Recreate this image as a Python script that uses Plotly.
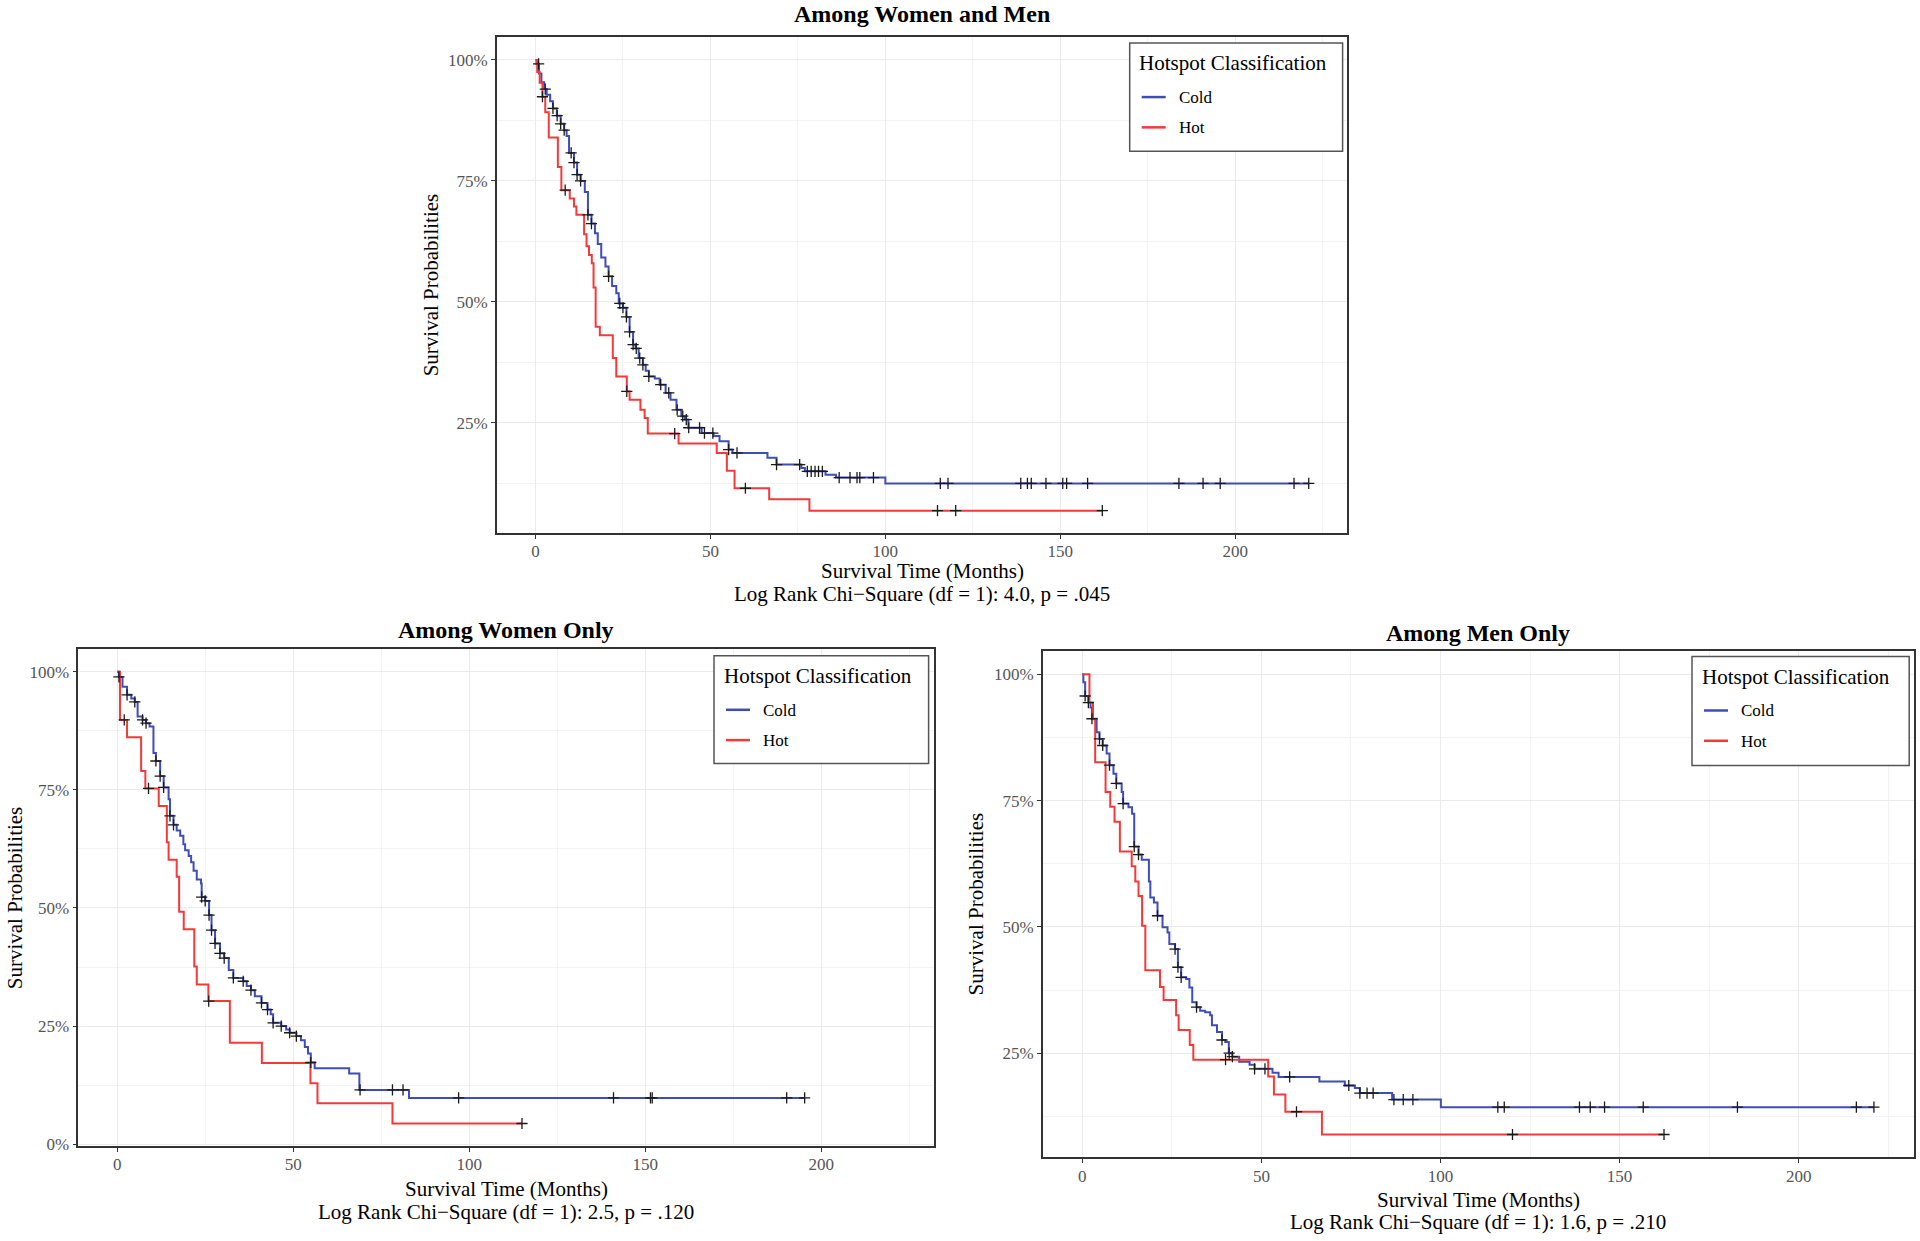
import plotly.graph_objects as go

FONT = "Liberation Serif"
BLUE = "#3F4DB8"
RED = "#F23A3A"
W, H = 1920, 1241

# ---------------- data: Among Women and Men ----------------
all_cold_t = [0, 0.3, 1.0, 1.7, 2.5, 3.2, 4.2, 5.0, 6.1, 7.2, 8.2, 8.9, 9.6, 11.0, 11.9, 12.9, 14.1, 15.0, 16.0, 17.0,
              17.8, 18.8, 20.0, 20.9, 21.9, 23.1, 23.8, 25.0, 26.0, 26.9, 27.9, 28.6, 29.5, 30.7, 31.5, 32.4, 34.1, 35.5,
              37.2, 38.6, 40.3, 41.7, 42.7, 43.7, 47.5, 50.9, 52.6, 55.2, 56.3, 66.3, 68.9, 76.0, 77.0, 82.9, 85.9, 100.0]
all_cold_s = [100, 99.2, 97.2, 95.4, 94.0, 92.8, 91.5, 90.0, 88.5, 86.8, 85.5, 84.3, 80.8, 78.8, 76.3, 75.0, 72.7, 68.0,
              66.2, 64.2, 62.0, 59.2, 57.3, 55.3, 53.3, 51.8, 49.7, 48.8, 46.9, 43.8, 41.2, 40.4, 38.4, 37.0, 35.8, 34.6,
              34.2, 32.9, 31.2, 29.8, 27.7, 26.4, 25.7, 24.0, 22.9, 22.3, 21.2, 19.5, 18.8, 17.8, 16.4, 15.7, 15.0, 14.3,
              13.7, 12.5]
all_cold_cens = [0.9, 2.8, 5.0, 6.2, 7.2, 8.2, 10.2, 11.0, 11.9, 12.9, 15.0, 16.0, 20.9, 24.1, 25.0, 26.0, 26.9, 27.9,
                 28.8, 29.8, 30.7, 32.4, 35.8, 38.1, 40.5, 42.1, 43.1, 43.8, 46.9, 48.3, 50.7, 55.2, 57.6, 68.9, 75.5,
                 77.7, 78.8, 79.9, 80.9, 82.0, 86.8, 89.9, 91.9, 92.7, 96.6, 115.7, 117.9, 138.7, 140.6, 141.7, 145.9,
                 150.7, 151.8, 157.8, 183.9, 190.8, 195.7, 216.8, 221.0]
all_hot_t = [0, 0.5, 1.2, 2.0, 2.8, 3.8, 6.4, 7.4, 9.8, 11.0, 11.7, 13.9, 14.6, 15.3, 16.1, 16.6, 17.2, 18.4, 22.1, 23.1,
             26.1, 26.9, 30.0, 31.2, 32.1, 40.9, 51.8, 54.7, 56.9, 66.8, 78.3]
all_hot_s = [100, 97.5, 95.3, 92.4, 89.2, 84.0, 77.9, 73.1, 71.4, 69.7, 68.0, 64.0, 61.5, 59.7, 58.0, 53.0, 44.9, 43.1,
             38.4, 34.6, 31.5, 29.8, 27.7, 26.0, 22.8, 20.75, 18.8, 15.1, 11.5, 9.24, 6.86]
all_hot_cens = [2.0, 8.5, 26.1, 39.8, 60.0, 114.9, 120.1, 162.0]

# ---------------- data: Among Women Only ----------------
w_cold_t = [0, 0.5, 1.5, 2.8, 4.0, 5.0, 5.8, 7.2, 8.2, 9.2, 10.3, 11.0, 12.2, 13.2, 14.6, 15.0, 16.0, 16.9, 17.9, 18.8,
            19.3, 20.3, 21.0, 21.7, 22.6, 23.8, 24.0, 25.0, 26.1, 26.8, 27.8, 29.2, 30.4, 31.7, 33.0, 35.8, 36.8, 38.0,
            39.1, 41.0, 42.7, 43.6, 44.3, 46.6, 48.0, 49.0, 50.9, 52.2, 53.3, 54.2, 55.0, 56.1, 65.9, 68.8, 82.9]
w_cold_s = [100, 98.9, 96.8, 95.1, 94.3, 93.6, 90.5, 89.8, 89.1, 88.4, 82.8, 81.1, 77.9, 75.5, 73.0, 69.5, 67.6, 66.4,
            65.3, 63.5, 62.2, 61.0, 59.7, 57.9, 56.0, 55.2, 52.3, 51.5, 48.5, 45.3, 42.5, 40.4, 39.4, 36.9, 35.2, 34.5,
            33.5, 32.6, 31.3, 29.9, 28.5, 27.5, 25.7, 25.0, 24.3, 23.6, 22.9, 22.0, 20.6, 19.2, 17.3, 16.1, 15.0, 11.5,
            9.8]
w_cold_cens = [0.5, 2.8, 5.0, 7.2, 8.2, 11.0, 12.2, 13.2, 15.0, 16.0, 24.0, 25.0, 26.1, 26.8, 27.8, 29.2, 30.4, 33.0,
               35.8, 38.0, 41.0, 42.7, 44.3, 46.6, 49.0, 50.9, 55.0, 69.0, 78.2, 81.2, 97.0, 141.0, 151.5, 152.0,
               190.2, 195.3]
w_hot_t = [0, 0.8, 2.8, 6.8, 8.0, 11.8, 14.1, 14.6, 16.9, 17.6, 18.9, 21.9, 22.6, 25.9, 32.0, 41.1, 54.9, 56.9, 78.2]
w_hot_s = [100, 89.8, 86.1, 79.0, 75.3, 71.6, 63.9, 60.2, 56.6, 49.2, 45.5, 37.6, 33.8, 30.3, 21.5, 17.2, 12.9, 8.7, 4.4]
w_hot_cens = [2.0, 8.9, 26.0, 115.0]

# ---------------- data: Among Men Only ----------------
m_cold_t = [0, 0.3, 0.8, 1.7, 2.3, 2.7, 4.0, 4.8, 5.7, 6.8, 7.6, 8.7, 9.5, 11.0, 11.4, 12.9, 13.9, 14.5, 15.7, 16.6,
            18.6, 19.0, 20.0, 21.0, 22.4, 23.8, 24.3, 25.9, 26.7, 27.6, 29.0, 29.9, 30.7, 31.9, 32.9, 34.3, 35.7, 36.2,
            37.6, 39.0, 39.9, 40.9, 41.9, 43.8, 46.7, 48.1, 53.1, 54.8, 66.2, 73.3, 76.1, 77.5, 86.5, 100.1]
m_cold_s = [100, 98.4, 95.7, 94.4, 93.4, 91.2, 88.5, 87.2, 85.9, 84.3, 82.0, 80.3, 78.4, 76.7, 74.4, 73.7, 72.4, 65.9,
            64.3, 63.3, 59.0, 55.8, 54.8, 52.2, 49.9, 48.9, 46.6, 45.6, 42.0, 40.0, 39.7, 38.0, 35.1, 34.1, 33.4, 33.1,
            32.5, 30.5, 29.2, 27.6, 27.2, 25.0, 24.3, 23.3, 22.7, 21.9, 21.1, 20.3, 19.4, 18.6, 18.1, 17.1, 15.8, 14.3]
m_cold_cens = [0.8, 1.7, 2.7, 4.8, 5.7, 7.6, 9.5, 11.4, 14.5, 15.7, 21.0, 25.9, 26.7, 27.6, 31.9, 39.0, 41.0, 41.9,
               48.1, 51.0, 57.9, 74.4, 77.5, 79.5, 81.2, 87.0, 89.6, 92.3, 116.0, 117.8, 138.8, 141.8, 145.8, 156.6,
               182.9, 216.1, 221.0]
m_hot_t = [0, 2.0, 3.0, 3.6, 6.5, 7.8, 9.0, 10.5, 13.8, 14.8, 15.7, 16.7, 17.6, 21.7, 22.7, 26.2, 26.9, 30.0, 31.0,
           51.9, 53.5, 56.7, 66.9]
m_hot_s = [100, 94.4, 91.1, 82.6, 76.7, 73.8, 70.8, 64.9, 62.0, 59.0, 56.1, 50.2, 41.4, 38.1, 35.5, 32.5, 29.6, 26.6,
           23.7, 20.4, 16.8, 13.4, 8.9]
m_hot_cens = [40.0, 59.8, 120.1, 162.4]

titles = ["Among Women and Men", "Among Women Only", "Among Men Only"]
stats = ["Log Rank Chi\u2212Square (df = 1): 4.0, p = .045",
         "Log Rank Chi\u2212Square (df = 1): 2.5, p = .120",
         "Log Rank Chi\u2212Square (df = 1): 1.6, p = .210"]
group_names = ["Cold", "Hot"]
group_colors = [BLUE, RED]
x_ticks = [0, 50, 100, 150, 200]
y_ticks = [0, 25, 50, 75, 100]
y_ticklabels = ["0%", "25%", "50%", "75%", "100%"]
x_title = "Survival Time (Months)"
y_title = "Survival Probabilities"
legend_title = "Hotspot Classification"

panels_data = [
    [(all_cold_t, all_cold_s, all_cold_cens), (all_hot_t, all_hot_s, all_hot_cens)],
    [(w_cold_t, w_cold_s, w_cold_cens), (w_hot_t, w_hot_s, w_hot_cens)],
    [(m_cold_t, m_cold_s, m_cold_cens), (m_hot_t, m_hot_s, m_hot_cens)],
]

# ---------------- layout geometry (pixels) ----------------
boxes = [(496.8, 1347.4, 37.7, 536.7), (78.3, 934.0, 653.3, 1153.5), (1042.7, 1913.5, 655.5, 1165.0)]
legend_boxes = [(1129.7, 43.3, 1342.6, 152.3), (714.0, 660.0, 928.6, 768.5), (1692.0, 660.7, 1909.2, 770.5)]
title_y = [14.5, 634.0, 637.0]
xtitle_y = [575.0, 1197.0, 1208.0]
stat_y = [598.0, 1220.0, 1230.0]
ytitle_x = [431.0, 14.7, 976.0]


def surv_at(ts, ss, t):
    v = ss[0]
    for ti, si in zip(ts, ss):
        if ti <= t + 1e-9:
            v = si
    return v


def px(x):
    return x / W


def py(y):
    return 1 - y / H


max_t = max(max(c) for p in panels_data for (_, _, c) in p)
x_range = [-0.05 * max_t, max_t * 1.05]

fig = go.Figure()
annotations = []
shapes = []
for i, pdata in enumerate(panels_data):
    sfx = "" if i == 0 else str(i + 1)
    xa, ya = "x" + sfx, "y" + sfx
    for g, (tt, ss, cens) in enumerate(pdata):
        t_end = max(max(cens), tt[-1])
        fig.add_trace(go.Scatter(
            x=list(tt) + [t_end], y=list(ss) + [ss[-1]], mode="lines",
            line=dict(color=group_colors[g], width=2, shape="hv"),
            name=group_names[g], showlegend=False,
            xaxis=xa, yaxis=ya, hoverinfo="skip"))
    for g, (tt, ss, cens) in enumerate(pdata):
        fig.add_trace(go.Scatter(
            x=cens, y=[surv_at(tt, ss, c) for c in cens], mode="markers",
            marker=dict(symbol="cross-thin", size=8, line=dict(width=1.3, color="#1a1a1a")),
            showlegend=False, xaxis=xa, yaxis=ya, hoverinfo="skip"))

    ymin = min(min(s) for (_, s, _) in pdata)
    span = 100 - ymin
    y_range = [ymin - 0.05 * span, 100 + 0.05 * span]

    L, R, T, B = boxes[i]
    axis_common = dict(
        showline=True, mirror=True, linecolor="#333333", linewidth=1.5,
        ticks="outside", ticklen=4, tickwidth=1.2, tickcolor="#333333",
        showgrid=True, gridcolor="#EBEBEB", gridwidth=1.2, zeroline=False,
        tickfont=dict(family=FONT, size=17, color="#555555"),
    )
    fig.layout["xaxis" + sfx] = dict(
        axis_common, domain=[px(L), px(R)], range=x_range, tickmode="array", tickvals=x_ticks,
        ticktext=[str(v) for v in x_ticks], ticklabelstandoff=-2,
        anchor=ya, minor=dict(showgrid=True, gridcolor="#F3F3F3", gridwidth=1, dtick=25, tick0=0, ticks=""))
    fig.layout["yaxis" + sfx] = dict(
        axis_common, domain=[py(B), py(T)], range=y_range, tickmode="array", tickvals=y_ticks,
        ticktext=y_ticklabels,
        anchor=xa, minor=dict(showgrid=True, gridcolor="#F3F3F3", gridwidth=1, dtick=12.5, tick0=0, ticks=""))

    # legend (key box) for this panel
    bx0, by0, bx1, by1 = legend_boxes[i]
    shapes.append(dict(type="rect", xref="paper", yref="paper", x0=px(bx0), x1=px(bx1), y0=py(by1), y1=py(by0),
                       line=dict(color="#555555", width=1.5), fillcolor="white", layer="above"))
    annotations.append(dict(text=legend_title, x=px(bx0 + 7.5), y=py(by0 + 20.5), xref="paper", yref="paper",
                            showarrow=False, xanchor="left", yanchor="middle",
                            font=dict(family=FONT, size=21, color="black")))
    for g in range(2):
        ly = by0 + 54.4 + 30.5 * g
        shapes.append(dict(type="line", xref="paper", yref="paper", x0=px(bx0 + 12), x1=px(bx0 + 36),
                           y0=py(ly), y1=py(ly), line=dict(color=group_colors[g], width=2.5), layer="above"))
        annotations.append(dict(text=group_names[g], x=px(bx0 + 47), y=py(ly + 0.5), xref="paper", yref="paper",
                                showarrow=False, xanchor="left", yanchor="middle",
                                font=dict(family=FONT, size=17, color="black")))

    cx = px((L + R) / 2)
    annotations.append(dict(text="<b>%s</b>" % titles[i], x=cx, y=py(title_y[i]), xref="paper", yref="paper",
                            showarrow=False, xanchor="center", yanchor="middle",
                            font=dict(family=FONT, size=24, color="black")))
    annotations.append(dict(text=x_title, x=cx, y=py(xtitle_y[i]), xref="paper", yref="paper",
                            showarrow=False, xanchor="center", yanchor="middle",
                            font=dict(family=FONT, size=21, color="black")))
    annotations.append(dict(text=stats[i], x=cx, y=py(stat_y[i]), xref="paper", yref="paper",
                            showarrow=False, xanchor="center", yanchor="middle",
                            font=dict(family=FONT, size=21, color="black")))
    annotations.append(dict(text=y_title, x=px(ytitle_x[i]), y=py((T + B) / 2), xref="paper", yref="paper",
                            showarrow=False, xanchor="center", yanchor="middle", textangle=-90,
                            font=dict(family=FONT, size=21, color="black")))

fig.update_layout(
    width=W, height=H, margin=dict(l=0, r=0, t=0, b=0, pad=0),
    paper_bgcolor="white", plot_bgcolor="white", showlegend=False,
    annotations=annotations, shapes=shapes, font=dict(family=FONT),
)

fig.write_html("out.html", config={"displayModeBar": False},
               post_script="document.body.style.margin='0px';document.body.style.overflow='hidden';")
